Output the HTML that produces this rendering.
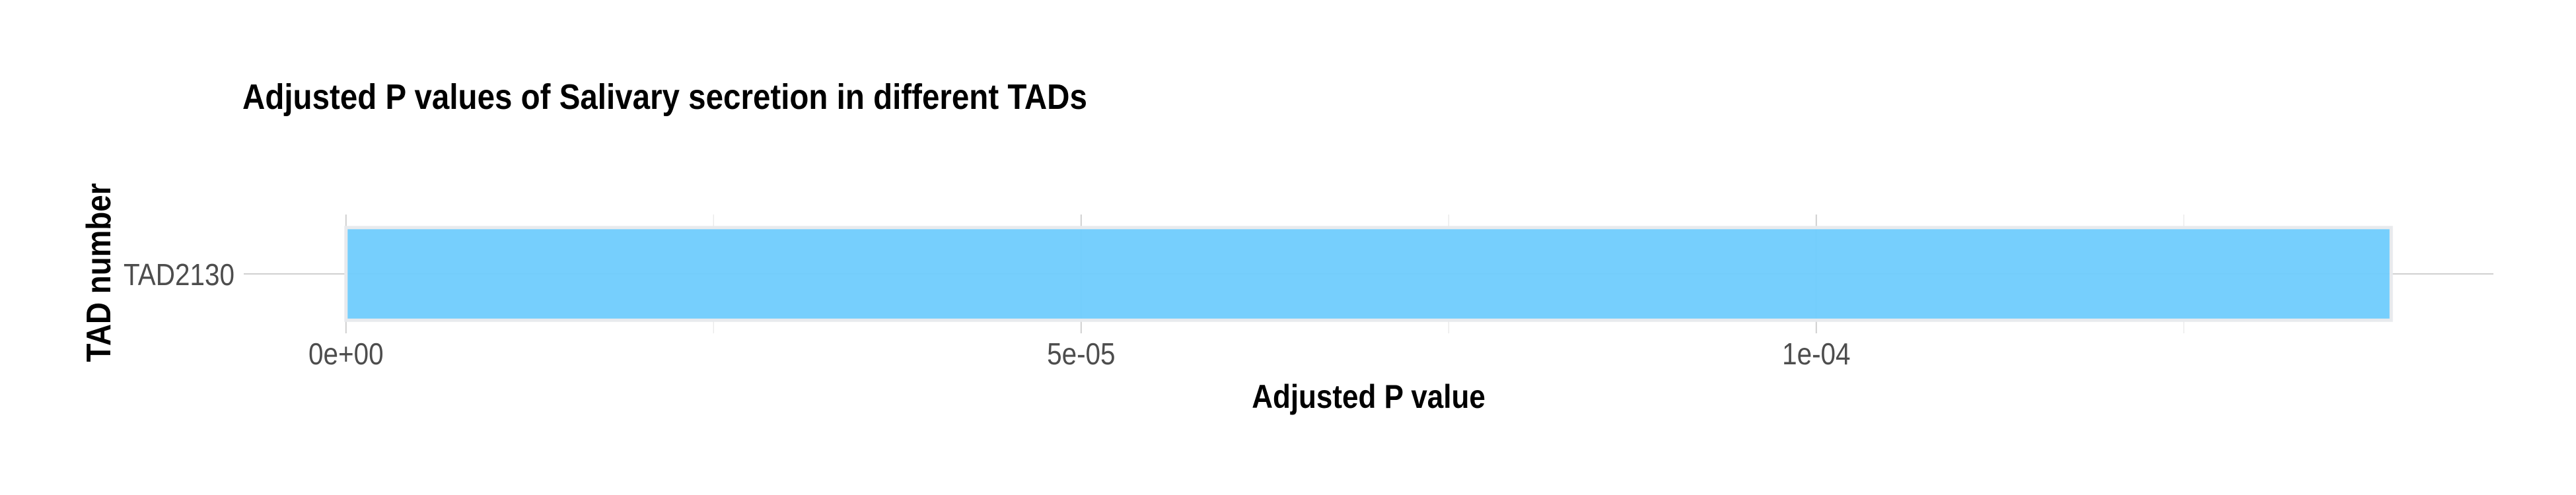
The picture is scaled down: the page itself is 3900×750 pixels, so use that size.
<!DOCTYPE html>
<html><head><meta charset="utf-8"><style>
html,body{margin:0;padding:0;background:#fff;}
svg{display:block;font-family:"Liberation Sans",Arial,sans-serif;}
</style></head><body>
<svg id="chart" width="3900" height="750" xmlns="http://www.w3.org/2000/svg">
<text transform="translate(367,165) scale(0.88,1)" font-size="54" font-weight="bold" fill="#000">Adjusted P values of Salivary secretion in different TADs</text>
<g id="grid"></g>
<g id="bars"></g>
<g id="labels"></g>
<text transform="translate(2072,618) scale(0.88,1)" font-size="50" font-weight="bold" text-anchor="middle" fill="#000">Adjusted P value</text>
<text transform="translate(167,413) rotate(-90) scale(0.88,1)" font-size="52" font-weight="bold" text-anchor="middle" fill="#000">TAD number</text>
</svg>
<script>
const categories = ["TAD2130"];
const values = [1.391e-4];
const xTicks = [0, 5e-5, 1e-4];
const xTickLabels = ["0e+00", "5e-05", "1e-04"];
const xMinor = [2.5e-5, 7.5e-5, 1.25e-4];

const NS = "http://www.w3.org/2000/svg";
const panelL = 369, panelR = 3775, panelT = 325, panelB = 505;
const maxV = Math.max(...values);
const span = maxV * 1.1;
const x = v => panelL + (v + maxV * 0.05) / span * (panelR - panelL);
const bandH = (panelB - panelT) / categories.length;
const y = i => panelT + bandH * (categories.length - i - 0.5);

function mk(tag, attrs, parent) {
  const e = document.createElementNS(NS, tag);
  for (const k in attrs) e.setAttribute(k, attrs[k]);
  parent.appendChild(e);
  return e;
}
const grid = document.getElementById("grid");
const bars = document.getElementById("bars");
const labels = document.getElementById("labels");

xMinor.forEach(v => {
  const l = mk("line", {x1: x(v), x2: x(v), y1: panelT, y2: panelB, stroke: "#ebebeb", "stroke-width": 1.5}, grid);
  
  
});
xTicks.forEach((v, i) => {
  const l = mk("line", {x1: x(v), x2: x(v), y1: panelT, y2: panelB, stroke: "#d0d0d0", "stroke-width": 2}, grid);
  
  
  const t = mk("text", {transform: "translate(" + x(v) + ",552) scale(0.88,1)", "font-size": 46, "text-anchor": "middle", fill: "#4d4d4d"}, labels);
  t.textContent = xTickLabels[i];
  
  
});
categories.forEach((c, i) => {
  const l = mk("line", {x1: panelL, x2: panelR, y1: y(i), y2: y(i), stroke: "#d0d0d0", "stroke-width": 2}, grid);
  
  
  const h = bandH * 0.78;
  const r = mk("rect", {x: x(0), y: y(i) - h / 2, width: x(values[i]) - x(0), height: h, fill: "#70cdfd", "fill-opacity": 0.96, stroke: "#e8eaed", "stroke-width": 5}, bars);
  
  
  const t = mk("text", {transform: "translate(355," + (y(i) + 17) + ") scale(0.88,1)", "font-size": 46, "text-anchor": "end", fill: "#4d4d4d"}, labels);
  t.textContent = c;
  
  
});
</script>
</body></html>
